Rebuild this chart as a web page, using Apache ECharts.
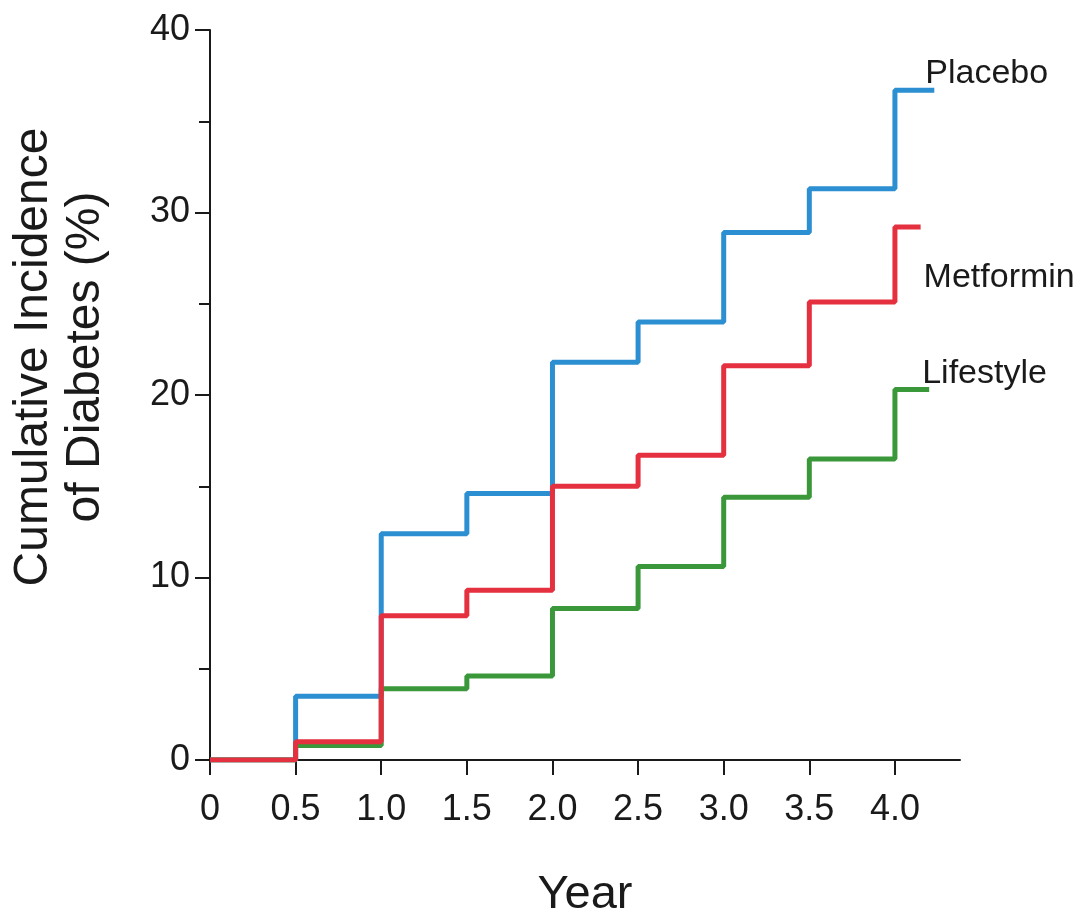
<!DOCTYPE html>
<html>
<head>
<meta charset="utf-8">
<script src="https://cdn.jsdelivr.net/npm/echarts@6/dist/echarts.min.js"></script>
<style>
  html, body { margin: 0; padding: 0; background: #fff; }
  #chart { width: 1090px; height: 918px; }
</style>
</head>
<body>
<div id="chart"></div>
<script>
// step times (years) and cumulative incidence (%)
const stepYears = [0, 0.5, 1.0, 1.5, 2.0, 2.5, 3.0, 3.5, 4.0];
const placebo   = [0, 3.5, 12.4, 14.6, 21.8, 24.0, 28.9, 31.3, 36.7];
const metformin = [0, 1.0, 7.9, 9.3, 15.0, 16.7, 21.6, 25.1, 29.2];
const lifestyle = [0, 0.8, 3.9, 4.6, 8.3, 10.6, 14.4, 16.5, 20.3];
// where each curve stops on the right
const placeboEnd = 4.23;
const metforminEnd = 4.15;
const lifestyleEnd = 4.2;
const xTicks = ['0', '0.5', '1.0', '1.5', '2.0', '2.5', '3.0', '3.5', '4.0'];

const FONT = '"Liberation Sans", Arial, sans-serif';
const INK = '#1a1a1a';

function toPoints(vals, endX) {
    const pts = stepYears.map((x, i) => [x, vals[i]]);
    pts.push([endX, vals[vals.length - 1]]);
    return pts;
}

function curve(name, vals, endX, color, offset) {
    return {
        name: name,
        type: 'line',
        step: 'end',
        data: toPoints(vals, endX),
        symbol: 'none',
        lineStyle: { color: color, width: 5 },
        itemStyle: { color: color },
        endLabel: {
            show: true,
            formatter: name,
            color: INK,
            fontFamily: FONT,
            fontSize: 34,
            align: 'left',
            verticalAlign: 'middle',
            offset: offset
        }
    };
}

const chart = echarts.init(document.getElementById('chart'));

chart.setOption({
    animation: false,
    backgroundColor: '#fff',
    grid: { left: 210, top: 30, right: 130, bottom: 158, outerBoundsMode: 'none' },
    xAxis: {
        type: 'value',
        min: 0,
        max: 4.38,
        interval: 0.5,
        name: 'Year',
        nameLocation: 'middle',
        nameGap: 112,
        nameTextStyle: { color: INK, fontFamily: FONT, fontSize: 47 },
        axisLine: { lineStyle: { color: INK, width: 2 } },
        axisTick: { length: 15, customValues: stepYears, lineStyle: { color: INK, width: 2 } },
        axisLabel: {
            color: INK, fontFamily: FONT, fontSize: 36, margin: 32,
            customValues: stepYears,
            formatter: v => xTicks[Math.round(v * 2)] || ''
        },
        splitLine: { show: false }
    },
    yAxis: {
        type: 'value',
        min: 0,
        max: 40,
        interval: 10,
        name: 'Cumulative Incidence\nof Diabetes (%)',
        nameLocation: 'middle',
        nameRotate: 90,
        nameGap: 98,
        nameTextStyle: {
            color: INK, fontFamily: FONT, fontSize: 48, lineHeight: 52,
            padding: [0, 0, 0, 76]
        },
        axisLine: { show: true, lineStyle: { color: INK, width: 2 } },
        axisTick: { show: true, length: 15, lineStyle: { color: INK, width: 2 } },
        minorTick: { show: true, splitNumber: 2, length: 11, lineStyle: { color: INK, width: 2 } },
        axisLabel: { color: INK, fontFamily: FONT, fontSize: 36, margin: 20 },
        splitLine: { show: false }
    },
    series: [
        curve('Placebo', placebo, placeboEnd, '#2b8fd2', [-17, -17]),
        curve('Lifestyle', lifestyle, lifestyleEnd, '#3a983a', [-15, -16]),
        curve('Metformin', metformin, metforminEnd, '#e5303f', [-5, 51])
    ]
});

window.addEventListener('resize', () => chart.resize());
</script>
</body>
</html>
